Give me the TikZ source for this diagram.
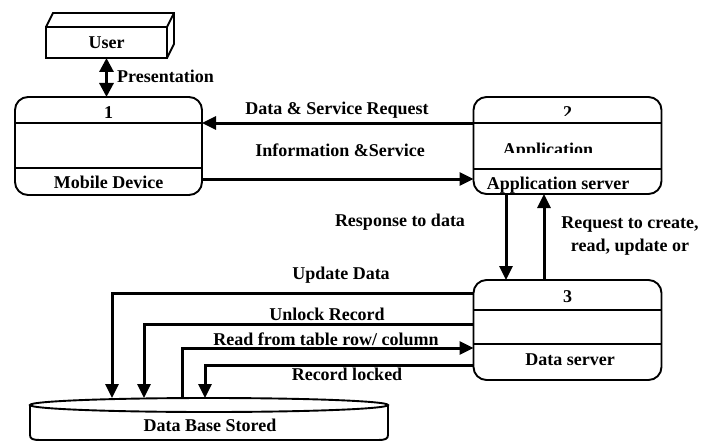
\documentclass[tikz,border=0pt]{standalone}
\usepackage{fontspec}
\setmainfont{Liberation Serif}
\usetikzlibrary{arrows.meta}
\begin{document}
\begin{tikzpicture}[x=1pt,y=-1pt,
  lbl/.style={font=\fontsize{18}{22}\selectfont\bfseries, inner sep=0pt, anchor=base},
  proc/.style={draw, line width=1.9pt, rounded corners=13pt, minimum width=188pt, inner sep=0pt, outer sep=0pt},
  flow/.style={line width=3pt, -{Triangle[length=14pt,width=13pt]}},
  edge/.style={line width=1.9pt}]
\useasboundingbox (0,0) rectangle (703,441);

% process boxes
\node[proc, minimum width=187pt, minimum height=98pt] (b1) at (108.5,146) {};
\node[proc, minimum height=97pt] (b2) at (567.5,145.5) {};
\node[proc, minimum height=100pt] (b3) at (567.5,330) {};
\draw[edge] ([yshift=-26pt]b1.north west) -- ([yshift=-26pt]b1.north east);
\draw[edge] ([yshift=-71pt]b1.north west) -- ([yshift=-71pt]b1.north east);
\draw[edge] ([yshift=-26pt]b2.north west) -- ([yshift=-26pt]b2.north east);
\draw[edge] ([yshift=-72pt]b2.north west) -- ([yshift=-72pt]b2.north east);
\draw[edge] ([yshift=-30pt]b3.north west) -- ([yshift=-30pt]b3.north east);
\draw[edge] ([yshift=-64pt]b3.north west) -- ([yshift=-64pt]b3.north east);

% user box
\node[draw, edge, minimum width=121pt, minimum height=31pt, inner sep=0pt, outer sep=0pt] (user) at (106.5,42.5) {};
\draw[edge] (user.north west) -- ++(7,-14) -- ++(121,0) -- ++(0,31) -- (user.south east);
\draw[edge] (user.north east) -- ++(7,-14);
\node[lbl] (tuser) at (106.5,48.5) {User};

% database
\node[minimum width=358pt, minimum height=43pt, inner sep=0pt, outer sep=0pt] (db) at (209,419.5) {};
\draw[edge] (209,405) ellipse [x radius=179pt, y radius=7pt];
\draw[edge] (30,405) -- (30,435) .. controls (30,439) and (33,440) .. (40,440) -- (378,440) .. controls (385,440) and (388,439) .. (388,435) -- (388,405);
\node[lbl] (tdb) at (210,431) {Data Base Stored};

% presentation
\draw[line width=3pt, {Triangle[length=14pt,width=14pt]}-{Triangle[length=14pt,width=14pt]}] (user.south) -- (user.south |- b1.north);
\node[lbl, anchor=base west] (tpres) at (117,83) {Presentation};

% box texts
\node[lbl] (t1) at (108.5,118) {1};
\node[lbl] (t1b) at (108.5,188) {Mobile Device};
\begin{scope}
  \clip (480,100) rectangle (655,115.5);
  \node[lbl] (t2) at (567.5,118) {2};
\end{scope}
\begin{scope}
  \clip (480,130) rectangle (655,152.5);
  \node[lbl] (t2a) at (548,155) {Application};
\end{scope}
\node[lbl] (t2b) at (558,189) {Application server};
\node[lbl] (t3) at (567.5,302) {3};
\node[lbl] (t3b) at (570,365) {Data server};

% flows between boxes
\draw[flow] ([yshift=-26pt]b2.north west) -- ([yshift=-26pt]b1.north east);
\draw[flow] ([yshift=16pt]b1.south east) -- ([yshift=15pt]b2.south west);
\draw[flow] ([xshift=-61.5pt]b2.south) -- ([xshift=-61.5pt]b3.north);
\draw[flow] ([xshift=-23.5pt]b3.north) -- ([xshift=-23.5pt]b2.south);

% flows to database
\draw[flow] ([yshift=-13pt]b3.north west) -| ([xshift=82pt]db.north west);
\draw[flow] ([yshift=-44pt]b3.north west) -| ([xshift=114pt]db.north west);
\draw[flow] ([xshift=152pt]db.north west) |- ([yshift=-68pt]b3.north west);
\draw[flow] ([yshift=-85pt]b3.north west) -| ([xshift=175pt]db.north west);

% flow labels
\node[lbl] (l1) at (337,114) {Data \& Service Request};
\node[lbl] (l2) at (340,156) {Information \&Service};
\node[lbl] (l3) at (400,226) {Response to data};
\node[lbl] (l4) at (630,228) {Request to create,};
\node[lbl] (l5) at (630,251) {read, update or};
\node[lbl] (l6) at (341,279) {Update Data};
\node[lbl] (l7) at (327,320) {Unlock Record};
\node[lbl] (l8) at (326,345) {Read from table row/ column};
\node[lbl] (l9) at (347,380) {Record locked};
\end{tikzpicture}
\end{document}
